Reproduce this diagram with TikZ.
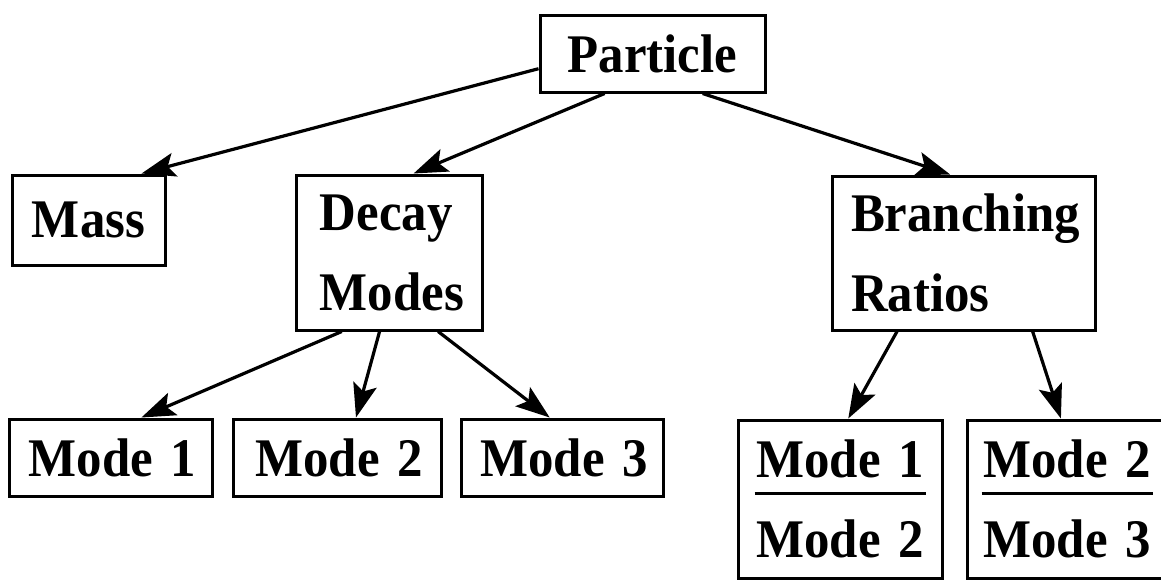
\documentclass[tikz,border=0pt]{standalone}
\usepackage{fontspec}
\setmainfont{Liberation Serif}[FakeStretch=0.935]
\usetikzlibrary{arrows.meta,calc}
\newcommand\myboxfont{\fontsize{27.2}{40}\selectfont\bfseries\spaceskip 0.32em\relax}
\begin{document}
\begin{tikzpicture}[x=0.5pt,y=-0.5pt,
  box/.style={draw, line width=1.5pt, rectangle, inner sep=0pt,
    font=\myboxfont, align=left},
  ratiobox/.style={box, align=center},
  arr/.style={line width=1.6pt, -{Stealth[length=17pt,width=12pt,inset=3.5pt]}},
  fracline/.style={line width=1.5pt}]
\useasboundingbox (0,0) rectangle (1161,580);
\clip (0,0) rectangle (1161,580);
\node[box, minimum width=112.5pt, minimum height=38.5pt] (particle) at (652.5,53.5) {Particle};
\node[box, minimum width=76.5pt, minimum height=45pt] (mass) at (88.5,220) {Mass};
\node[box, minimum width=93pt, minimum height=77.5pt] (decay) at (389,252.5) {\hspace*{3pt}Decay\\\hspace*{3pt}Modes};
\node[box, minimum width=131.5pt, minimum height=77pt] (branch) at (963.5,253) {\hspace*{2pt}Branching\\\hspace*{2pt}Ratios};
\node[box, minimum width=101.5pt, minimum height=38.5pt] (m1) at (110.5,457.5) {\hspace*{2pt}Mode 1};
\node[box, minimum width=104pt, minimum height=38.5pt] (m2) at (337,457.5) {\hspace*{2pt}Mode 2};
\node[box, minimum width=101pt, minimum height=38.5pt] (m3) at (562,457.5) {\hspace*{2pt}Mode 3};
\node[ratiobox, minimum width=102pt, minimum height=79pt] (r1) at (840,499) {Mode 1\\Mode 2};
\node[ratiobox, minimum width=100pt, minimum height=79pt] (r2) at (1067,499) {Mode 2\\Mode 3};
\draw[fracline] ($(r1.center)+(-85.5,-6)$) -- ($(r1.center)+(85.5,-6)$);
\draw[fracline] ($(r2.center)+(-85.5,-6)$) -- ($(r2.center)+(85.5,-6)$);
\draw[arr] ($(particle.north west)!0.69!(particle.south west)$) -- ($(mass.north west)!0.84!(mass.north east)$);
\draw[arr] ($(particle.south west)!0.29!(particle.south east)$) -- ($(decay.north west)!0.63!(decay.north east)$);
\draw[arr] ($(particle.south west)!0.72!(particle.south east)$) -- ($(branch.north west)!0.45!(branch.north east)$);
\draw[arr] ($(decay.south west)!0.25!(decay.south east)$) -- ($(m1.north west)!0.65!(m1.north east)$);
\draw[arr] ($(decay.south west)!0.45!(decay.south east)$) -- ($(m2.north west)!0.59!(m2.north east)$);
\draw[arr] ($(decay.south west)!0.76!(decay.south east)$) -- ($(m3.north west)!0.44!(m3.north east)$);
\draw[arr] ($(branch.south west)!0.25!(branch.south east)$) -- ($(r1.north west)!0.54!(r1.north east)$);
\draw[arr] ($(branch.south west)!0.76!(branch.south east)$) -- ($(r2.north west)!0.47!(r2.north east)$);
\end{tikzpicture}
\end{document}
